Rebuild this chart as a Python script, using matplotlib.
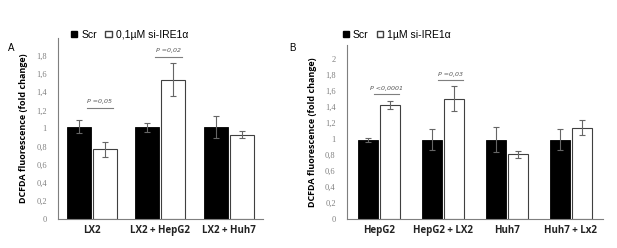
import matplotlib.pyplot as plt
import numpy as np
from matplotlib.patches import Patch

# Panel A
cats_a = ['LX2', 'LX2 + HepG2', 'LX2 + Huh7']
scr_a = [1.02, 1.015, 1.015]
scr_a_err = [0.07, 0.05, 0.12]
si_a = [0.77, 1.54, 0.93]
si_a_err = [0.08, 0.18, 0.04]
sig_a = [(0, 1.23, 'P =0,05'), (1, 1.79, 'P =0,02')]

# Panel B
cats_b = ['HepG2', 'HepG2 + LX2', 'Huh7', 'Huh7 + Lx2']
scr_b = [0.99, 0.99, 0.99, 0.99]
scr_b_err = [0.025, 0.13, 0.16, 0.13]
si_b = [1.42, 1.50, 0.805, 1.14]
si_b_err = [0.05, 0.16, 0.045, 0.095]
sig_b = [(0, 1.56, 'P <0,0001'), (1, 1.73, 'P =0,03')]

fig = plt.figure(figsize=(6.17, 2.48), dpi=100)
ax_a = fig.add_axes([0.094, 0.117, 0.332, 0.73])
ax_b = fig.add_axes([0.562, 0.117, 0.415, 0.702])

grey = '#7f7f7f'


def draw_panel(ax, cats, scr, scr_err, si, si_err, sig, ymax, ticks, width):
    x = np.arange(len(cats))
    gap = 0.03
    ax.bar(x - width / 2 - gap / 2, scr, width, color='black', edgecolor='black', linewidth=0.6)
    ax.bar(x + width / 2 + gap / 2, si, width, color='white', edgecolor='#404040', linewidth=0.8)
    ax.errorbar(x - width / 2 - gap / 2, scr, yerr=scr_err, fmt='none', ecolor='#666666',
                elinewidth=0.8, capsize=2.2, capthick=0.8)
    ax.errorbar(x + width / 2 + gap / 2, si, yerr=si_err, fmt='none', ecolor='#666666',
                elinewidth=0.8, capsize=2.2, capthick=0.8)
    for i, y, txt in sig:
        ax.plot([i - 0.08, i + 0.31], [y, y], color=grey, linewidth=0.8)
        ax.text(i + 0.115, y + 0.04, txt, ha='center', va='bottom', fontsize=4.5,
                style='italic', color='#555555')
    ax.set_xlim(-0.5, len(cats) - 0.5)
    ax.set_ylim(0, ymax)
    ax.set_yticks(ticks)
    ax.set_yticklabels([('%g' % t).replace('.', ',') for t in ticks])
    for lbl in ax.get_yticklabels():
        lbl.set_fontfamily('Liberation Serif')
        lbl.set_fontsize(6)
        lbl.set_color('#808080')
    ax.set_xticks(x)
    ax.set_xticklabels(cats, fontsize=7, fontweight='bold', fontfamily='Open Sans', color='#222222')
    ax.tick_params(axis='both', length=0, pad=4)
    ax.tick_params(axis='y', pad=8)
    for s in ['top', 'right']:
        ax.spines[s].set_visible(False)
    ax.spines['left'].set_color(grey)
    ax.spines['bottom'].set_color(grey)
    ax.set_ylabel('DCFDA fluorescence (fold change)', fontsize=6.5, fontweight='bold',
                  fontfamily='Open Sans', labelpad=6)


draw_panel(ax_a, cats_a, scr_a, scr_a_err, si_a, si_a_err, sig_a, 2.0,
           np.round(np.arange(0, 1.81, 0.2), 1), 0.35)
draw_panel(ax_b, cats_b, scr_b, scr_b_err, si_b, si_b_err, sig_b, 2.17,
           np.round(np.arange(0, 2.01, 0.2), 1), 0.31)

fig.text(0.013, 0.795, 'A', fontsize=7, fontfamily='Liberation Sans')
fig.text(0.468, 0.795, 'B', fontsize=7, fontfamily='Liberation Sans')

h_a = [Patch(facecolor='black', edgecolor='black'), Patch(facecolor='white', edgecolor='#404040')]
fig.legend(h_a, ['Scr', '0,1\u00b5M si-IRE1\u03b1'], loc='center left', bbox_to_anchor=(0.1, 0.86),
           ncol=2, frameon=False, handlelength=0.6, handleheight=0.6,
           handletextpad=0.4, columnspacing=0.8, prop={'family': 'Liberation Sans', 'size': 7.5})
fig.legend(h_a, ['Scr', '1\u00b5M si-IRE1\u03b1'], loc='center left', bbox_to_anchor=(0.54, 0.86),
           ncol=2, frameon=False, handlelength=0.6, handleheight=0.6,
           handletextpad=0.4, columnspacing=0.8, prop={'family': 'Liberation Sans', 'size': 7.5})

fig.savefig('out.png', dpi=100)
